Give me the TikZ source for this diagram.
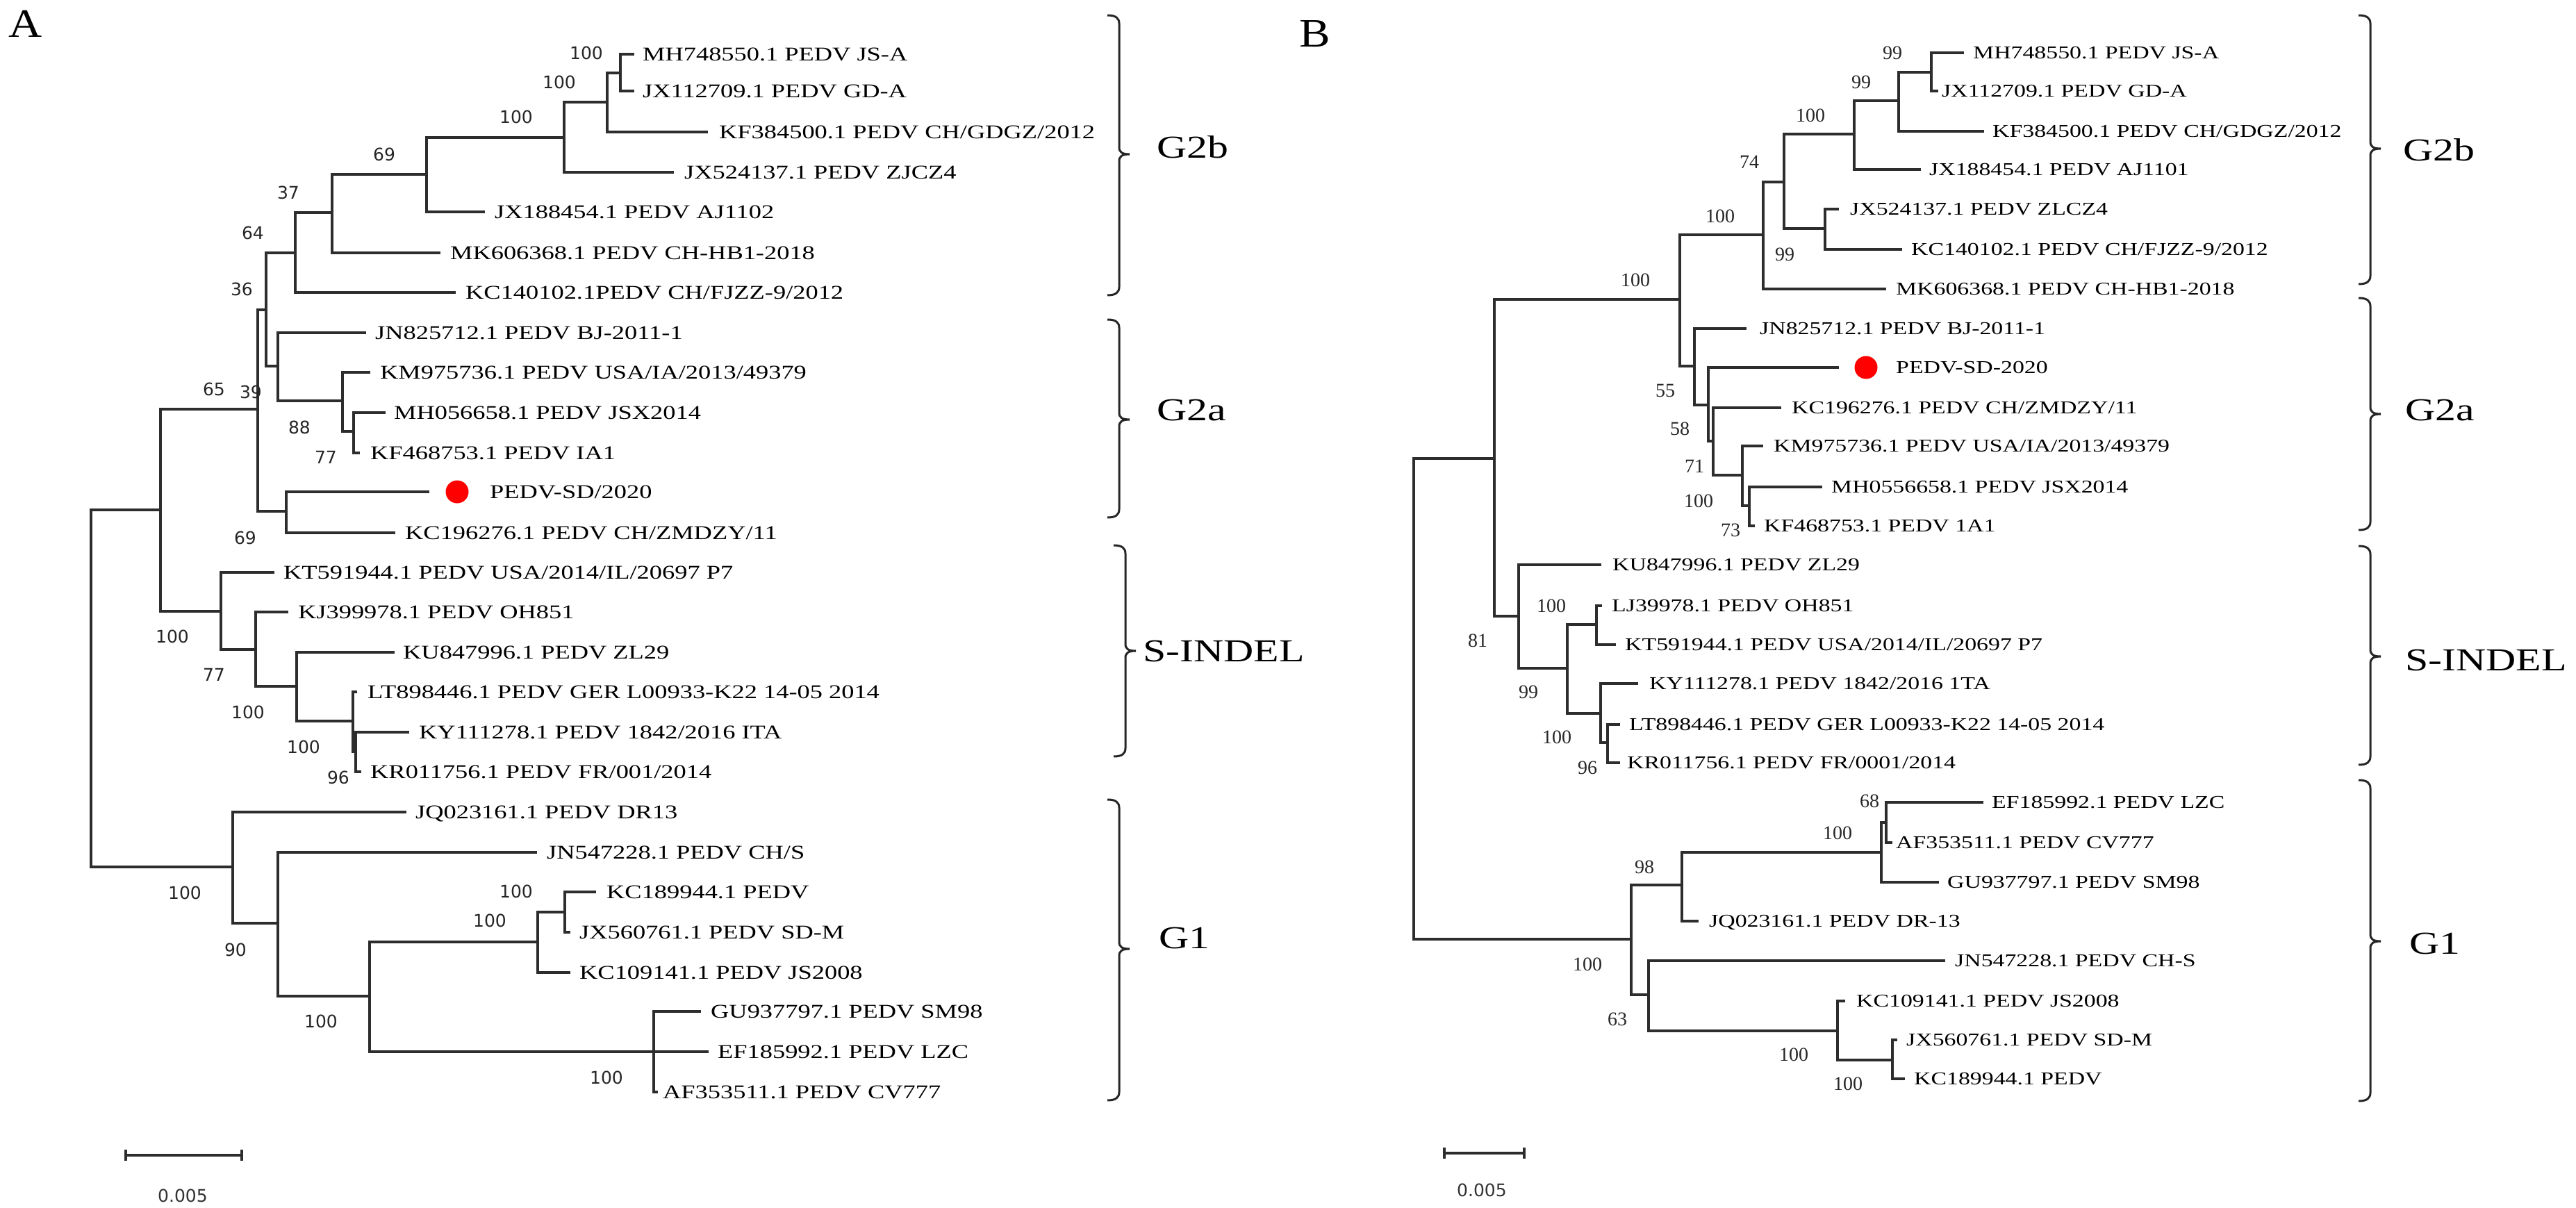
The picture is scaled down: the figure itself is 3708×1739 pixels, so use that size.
\documentclass[tikz,border=0pt]{standalone}
\usepackage{fontspec}
\newfontfamily\serifS[FakeStretch=1.3]{Liberation Serif}
\newfontfamily\serifL[FakeStretch=1.15]{Liberation Serif}
\newfontfamily\serifN{Liberation Serif}
\newfontfamily\sansN{DejaVu Sans}
\definecolor{ln}{RGB}{45,45,45}
\tikzset{
  br/.style={draw=ln, line width=3.3pt, line cap=rect},
  bkt/.style={draw=black!85, line width=3pt},
  leafa/.style={anchor=base west, inner sep=0pt, yshift=-9.3pt, font=\serifS\fontsize{28}{30}\selectfont},
  leafb/.style={anchor=base west, inner sep=0pt, yshift=-8.6pt, font=\serifS\fontsize{26}{28}\selectfont},
  bsa/.style={inner sep=0pt, font=\sansN\fontsize{25}{27}\selectfont, text=black!85},
  bsb/.style={inner sep=0pt, font=\serifN\fontsize{28}{30}\selectfont, text=black!85},
  grp/.style={anchor=west, inner sep=0pt, font=\serifS\fontsize{46}{48}\selectfont},
  pan/.style={inner sep=0pt, font=\serifL\fontsize{58}{60}\selectfont},
  scl/.style={inner sep=0pt, font=\sansN\fontsize{25}{27}\selectfont, text=black!80},
  dot/.style={circle, fill=red, draw=none, inner sep=0pt, minimum size=33pt}
}
\newcommand\kids[2]{\foreach \cc in {#2} {\draw[br] (#1 |- \cc) -- (\cc);}}
\newcommand\vspan[3]{\draw[br] (#1 |- #2) -- (#1 |- #3);}
\newcommand\brk[4]{\draw[bkt] (#1-17,#2) .. controls (#1-5,#2) and (#1,#2+4) .. (#1,#2+12) -- (#1,#3-10) .. controls (#1,#3-3) and (#1+4,#3) .. (#1+15,#3) .. controls (#1+4,#3) and (#1,#3+3) .. (#1,#3+10) -- (#1,#4-12) .. controls (#1,#4-4) and (#1-5,#4) .. (#1-17,#4);}
\begin{document}
\begin{tikzpicture}[x=1pt,y=-1pt]
\path[use as bounding box] (0,0) rectangle (3708,1739);
% ================= PANEL A =================
\node[pan] (panA) at (37,34) {A};
% tips
\coordinate (ta1) at (911,78);   \node[leafa] (la1) at (925,78) {MH748550.1 PEDV JS-A};
\coordinate (ta2) at (911,131);  \node[leafa] (la2) at (925,131) {JX112709.1 PEDV GD-A};
\coordinate (ta3) at (1017,190); \node[leafa] (la3) at (1035,190) {KF384500.1 PEDV CH/GDGZ/2012};
\coordinate (ta4) at (968,248);  \node[leafa] (la4) at (985,248) {JX524137.1 PEDV ZJCZ4};
\coordinate (ta5) at (696,305);  \node[leafa] (la5) at (712,305) {JX188454.1 PEDV AJ1102};
\coordinate (ta6) at (632,364);  \node[leafa] (la6) at (648,364) {MK606368.1 PEDV CH-HB1-2018};
\coordinate (ta7) at (654,421);  \node[leafa] (la7) at (670,421) {KC140102.1PEDV CH/FJZZ-9/2012};
\coordinate (ta8) at (525,479);  \node[leafa] (la8) at (540,479) {JN825712.1 PEDV BJ-2011-1};
\coordinate (ta9) at (531,536);  \node[leafa] (la9) at (547,536) {KM975736.1 PEDV USA/IA/2013/49379};
\coordinate (ta10) at (553,594); \node[leafa] (la10) at (567,594) {MH056658.1 PEDV JSX2014};
\coordinate (ta11) at (516,652); \node[leafa] (la11) at (533,652) {KF468753.1 PEDV IA1};
\coordinate (ta12) at (616,708); \node[dot] (da12) at (658,708) {}; \node[leafa] (la12) at (705,708) {PEDV-SD/2020};
\coordinate (ta13) at (567,767); \node[leafa] (la13) at (583,767) {KC196276.1 PEDV CH/ZMDZY/11};
\coordinate (ta14) at (393,824); \node[leafa] (la14) at (408,824) {KT591944.1 PEDV USA/2014/IL/20697 P7};
\coordinate (ta15) at (413,881); \node[leafa] (la15) at (429,881) {KJ399978.1 PEDV OH851};
\coordinate (ta16) at (566,939); \node[leafa] (la16) at (580,939) {KU847996.1 PEDV ZL29};
\coordinate (ta17) at (512,996); \node[leafa] (la17) at (529,996) {LT898446.1 PEDV GER L00933-K22 14-05 2014};
\coordinate (ta18) at (587,1054); \node[leafa] (la18) at (603,1054) {KY111278.1 PEDV 1842/2016 ITA};
\coordinate (ta19) at (518,1111); \node[leafa] (la19) at (533,1111) {KR011756.1 PEDV FR/001/2014};
\coordinate (ta20) at (583,1169); \node[leafa] (la20) at (598,1169) {JQ023161.1 PEDV DR13};
\coordinate (ta21) at (771,1227); \node[leafa] (la21) at (787,1227) {JN547228.1 PEDV CH/S};
\coordinate (ta22) at (856,1284); \node[leafa] (la22) at (873,1284) {KC189944.1 PEDV};
\coordinate (ta23) at (819,1342); \node[leafa] (la23) at (834,1342) {JX560761.1 PEDV SD-M};
\coordinate (ta24) at (819,1400); \node[leafa] (la24) at (834,1400) {KC109141.1 PEDV JS2008};
\coordinate (ta25) at (1007,1456); \node[leafa] (la25) at (1023,1456) {GU937797.1 PEDV SM98};
\coordinate (ta26) at (1018,1514); \node[leafa] (la26) at (1033,1514) {EF185992.1 PEDV LZC};
\coordinate (ta27) at (945,1572); \node[leafa] (la27) at (954,1572) {AF353511.1 PEDV CV777};
% internal nodes
\coordinate (nA1) at (893,105);  \coordinate (nA2) at (874,147);
\coordinate (nA3) at (812,198);  \coordinate (nA4) at (614,251);
\coordinate (nA5) at (478,306);  \coordinate (nA6) at (425,364);
\coordinate (nA7) at (383,446);  \coordinate (nA8) at (400,527);
\coordinate (nA9) at (493,577);  \coordinate (nA10) at (509,621);
\coordinate (nA11) at (371,589); \coordinate (nA12) at (412,736);
\coordinate (nA13) at (231,734); \coordinate (nA14) at (318,880);
\coordinate (nA15) at (368,935); \coordinate (nA16) at (427,988);
\coordinate (nA17) at (508,1038); \coordinate (nA18) at (512,1082);
\coordinate (rA) at (131,990);
\coordinate (nA20) at (335,1248); \coordinate (nA21) at (400,1329);
\coordinate (nA22) at (532,1434); \coordinate (nA23) at (774,1356);
\coordinate (nA25) at (813,1313); \coordinate (nA24) at (941,1514);
% verticals
\vspan{nA1}{ta1}{ta2} \vspan{nA2}{nA1}{ta3} \vspan{nA3}{nA2}{ta4}
\vspan{nA4}{nA3}{ta5} \vspan{nA5}{nA4}{ta6} \vspan{nA6}{nA5}{ta7}
\vspan{nA7}{nA6}{nA8} \vspan{nA8}{ta8}{nA9} \vspan{nA9}{ta9}{nA10}
\vspan{nA10}{ta10}{ta11} \vspan{nA11}{nA7}{nA12} \vspan{nA12}{ta12}{ta13}
\vspan{nA13}{nA11}{nA14} \vspan{nA14}{ta14}{nA15} \vspan{nA15}{ta15}{nA16}
\vspan{nA16}{ta16}{nA17} \vspan{nA17}{ta17}{nA18} \vspan{nA18}{ta18}{ta19}
\vspan{rA}{nA13}{nA20} \vspan{nA20}{ta20}{nA21} \vspan{nA21}{ta21}{nA22}
\vspan{nA22}{nA23}{nA24} \vspan{nA23}{nA25}{ta24} \vspan{nA25}{ta22}{ta23}
\vspan{nA24}{ta25}{ta27}
% horizontals
\kids{nA1}{ta1,ta2} \kids{nA2}{nA1,ta3} \kids{nA3}{nA2,ta4}
\kids{nA4}{nA3,ta5} \kids{nA5}{nA4,ta6} \kids{nA6}{nA5,ta7}
\kids{nA7}{nA6,nA8} \kids{nA8}{ta8,nA9} \kids{nA9}{ta9,nA10}
\kids{nA10}{ta10,ta11} \kids{nA11}{nA7,nA12} \kids{nA12}{ta12,ta13}
\kids{nA13}{nA11,nA14} \kids{nA14}{ta14,nA15} \kids{nA15}{ta15,nA16}
\kids{nA16}{ta16,nA17} \kids{nA17}{ta17,nA18} \kids{nA18}{ta18,ta19}
\kids{rA}{nA13,nA20} \kids{nA20}{ta20,nA21} \kids{nA21}{ta21,nA22}
\kids{nA22}{nA23,nA24} \kids{nA23}{nA25,ta24} \kids{nA25}{ta22,ta23}
\kids{nA24}{ta25,ta26,ta27}
% bootstrap A
\node[bsa] (bA1) at (844,76) {100};
\node[bsa] (bA2) at (805,118) {100};
\node[bsa] (bA3) at (743,168) {100};
\node[bsa] (bA4) at (553,222) {69};
\node[bsa] (bA5) at (415,277) {37};
\node[bsa] (bA6) at (364,335) {64};
\node[bsa] (bA7) at (348,416) {36};
\node[bsa] (bA8) at (308,560) {65};
\node[bsa] (bA9) at (361,564) {39};
\node[bsa] (bA10) at (431,615) {88};
\node[bsa] (bA11) at (469,658) {77};
\node[bsa] (bA12) at (353,774) {69};
\node[bsa] (bA13) at (248,916) {100};
\node[bsa] (bA14) at (308,971) {77};
\node[bsa] (bA15) at (357,1025) {100};
\node[bsa] (bA16) at (437,1075) {100};
\node[bsa] (bA17) at (487,1119) {96};
\node[bsa] (bA18) at (266,1285) {100};
\node[bsa] (bA19) at (339,1367) {90};
\node[bsa] (bA20) at (462,1470) {100};
\node[bsa] (bA21) at (705,1325) {100};
\node[bsa] (bA22) at (743,1283) {100};
\node[bsa] (bA23) at (873,1551) {100};
% scale bar A
\coordinate (sA1) at (181,1663); \coordinate (sA2) at (348,1663);
\draw[br, line cap=butt] (sA1) -- (sA2);
\draw[br, line cap=butt] ([yshift=8pt]sA1) -- ([yshift=-8pt]sA1);
\draw[br, line cap=butt] ([yshift=8pt]sA2) -- ([yshift=-8pt]sA2);
\node[scl] (sAl) at (263,1721) {0.005};
% brackets A
\brk{1611}{22}{222}{425}
\brk{1611}{460}{604}{745}
\brk{1620}{785}{937}{1089}
\brk{1611}{1151}{1366}{1584}
\node[grp] (gA1) at (1665,212) {G2b};
\node[grp] (gA2) at (1665,590) {G2a};
\node[grp] (gA3) at (1645,937) {S-INDEL};
\node[grp] (gA4) at (1668,1350) {G1};
% ================= PANEL B =================
\node[pan] (panB) at (1893,49) {B};
\coordinate (tb1) at (2825,76);   \node[leafb] (lb1) at (2840,76) {MH748550.1 PEDV JS-A};
\coordinate (tb2) at (2788,131);  \node[leafb] (lb2) at (2795,131) {JX112709.1 PEDV GD-A};
\coordinate (tb3) at (2854,189);  \node[leafb] (lb3) at (2868,189) {KF384500.1 PEDV CH/GDGZ/2012};
\coordinate (tb4) at (2763,244);  \node[leafb] (lb4) at (2777,244) {JX188454.1 PEDV AJ1101};
\coordinate (tb5) at (2645,301);  \node[leafb] (lb5) at (2663,301) {JX524137.1 PEDV ZLCZ4};
\coordinate (tb6) at (2736,359);  \node[leafb] (lb6) at (2751,359) {KC140102.1 PEDV CH/FJZZ-9/2012};
\coordinate (tb7) at (2713,416);  \node[leafb] (lb7) at (2729,416) {MK606368.1 PEDV CH-HB1-2018};
\coordinate (tb8) at (2512,473);  \node[leafb] (lb8) at (2533,473) {JN825712.1 PEDV BJ-2011-1};
\coordinate (tb9) at (2645,529);  \node[dot] (db9) at (2686,529) {}; \node[leafb] (lb9) at (2729,529) {PEDV-SD-2020};
\coordinate (tb10) at (2562,587); \node[leafb] (lb10) at (2579,587) {KC196276.1 PEDV CH/ZMDZY/11};
\coordinate (tb11) at (2536,642); \node[leafb] (lb11) at (2553,642) {KM975736.1 PEDV USA/IA/2013/49379};
\coordinate (tb12) at (2621,701); \node[leafb] (lb12) at (2636,701) {MH0556658.1 PEDV JSX2014};
\coordinate (tb13) at (2524,757); \node[leafb] (lb13) at (2539,757) {KF468753.1 PEDV 1A1};
\coordinate (tb14) at (2303,813); \node[leafb] (lb14) at (2321,813) {KU847996.1 PEDV ZL29};
\coordinate (tb15) at (2304,872); \node[leafb] (lb15) at (2320,872) {LJ39978.1 PEDV OH851};
\coordinate (tb16) at (2324,928); \node[leafb] (lb16) at (2339,928) {KT591944.1 PEDV USA/2014/IL/20697 P7};
\coordinate (tb17) at (2356,984); \node[leafb] (lb17) at (2374,984) {KY111278.1 PEDV 1842/2016 1TA};
\coordinate (tb18) at (2330,1043); \node[leafb] (lb18) at (2345,1043) {LT898446.1 PEDV GER L00933-K22 14-05 2014};
\coordinate (tb19) at (2330,1098); \node[leafb] (lb19) at (2342,1098) {KR011756.1 PEDV FR/0001/2014};
\coordinate (tb20) at (2853,1155); \node[leafb] (lb20) at (2867,1155) {EF185992.1 PEDV LZC};
\coordinate (tb21) at (2722,1213); \node[leafb] (lb21) at (2729,1213) {AF353511.1 PEDV CV777};
\coordinate (tb22) at (2789,1270); \node[leafb] (lb22) at (2803,1270) {GU937797.1 PEDV SM98};
\coordinate (tb23) at (2443,1326); \node[leafb] (lb23) at (2460,1326) {JQ023161.1 PEDV DR-13};
\coordinate (tb24) at (2798,1383); \node[leafb] (lb24) at (2814,1383) {JN547228.1 PEDV CH-S};
\coordinate (tb25) at (2654,1441); \node[leafb] (lb25) at (2672,1441) {KC109141.1 PEDV JS2008};
\coordinate (tb26) at (2729,1497); \node[leafb] (lb26) at (2744,1497) {JX560761.1 PEDV SD-M};
\coordinate (tb27) at (2740,1553); \node[leafb] (lb27) at (2755,1553) {KC189944.1 PEDV};
% internal nodes B
\coordinate (nB1) at (2780,104);  \coordinate (nB2) at (2733,145);
\coordinate (nB3) at (2669,193);  \coordinate (nB4) at (2627,329);
\coordinate (nB5) at (2568,262);  \coordinate (nB6) at (2538,338);
\coordinate (nB7) at (2418,431);  \coordinate (nB8) at (2439,527);
\coordinate (nB9) at (2459,583);  \coordinate (nB10) at (2466,635);
\coordinate (nB11) at (2508,684); \coordinate (nB12) at (2518,728);
\coordinate (nB13) at (2151,660); \coordinate (nB14) at (2186,887);
\coordinate (nB15) at (2256,962); \coordinate (nB16) at (2298,899);
\coordinate (nB17) at (2304,1027); \coordinate (nB18) at (2314,1069);
\coordinate (rB) at (2035,1000);
\coordinate (nB19) at (2348,1352); \coordinate (nB20) at (2421,1274);
\coordinate (nB22) at (2708,1227); \coordinate (nB23) at (2715,1184);
\coordinate (nB21) at (2373,1432); \coordinate (nB24) at (2645,1484);
\coordinate (nB25) at (2724,1526);
% verticals B
\vspan{nB1}{tb1}{tb2} \vspan{nB2}{nB1}{tb3} \vspan{nB3}{nB2}{tb4}
\vspan{nB4}{tb5}{tb6} \vspan{nB5}{nB3}{nB4} \vspan{nB6}{nB5}{tb7}
\vspan{nB7}{nB6}{nB8} \vspan{nB8}{tb8}{nB9} \vspan{nB9}{tb9}{nB10}
\vspan{nB10}{tb10}{nB11} \vspan{nB11}{tb11}{nB12} \vspan{nB12}{tb12}{tb13}
\vspan{nB13}{nB7}{nB14} \vspan{nB14}{tb14}{nB15} \vspan{nB15}{nB16}{nB17}
\vspan{nB16}{tb15}{tb16} \vspan{nB17}{tb17}{nB18} \vspan{nB18}{tb18}{tb19}
\vspan{rB}{nB13}{nB19} \vspan{nB19}{nB20}{nB21} \vspan{nB20}{nB22}{tb23}
\vspan{nB22}{nB23}{tb22} \vspan{nB23}{tb20}{tb21} \vspan{nB21}{tb24}{nB24}
\vspan{nB24}{tb25}{nB25} \vspan{nB25}{tb26}{tb27}
% horizontals B
\kids{nB1}{tb1,tb2} \kids{nB2}{nB1,tb3} \kids{nB3}{nB2,tb4}
\kids{nB4}{tb5,tb6} \kids{nB5}{nB3,nB4} \kids{nB6}{nB5,tb7}
\kids{nB7}{nB6,nB8} \kids{nB8}{tb8,nB9} \kids{nB9}{tb9,nB10}
\kids{nB10}{tb10,nB11} \kids{nB11}{tb11,nB12} \kids{nB12}{tb12,tb13}
\kids{nB13}{nB7,nB14} \kids{nB14}{tb14,nB15} \kids{nB15}{nB16,nB17}
\kids{nB16}{tb15,tb16} \kids{nB17}{tb17,nB18} \kids{nB18}{tb18,tb19}
\kids{rB}{nB13,nB19} \kids{nB19}{nB20,nB21} \kids{nB20}{nB22,tb23}
\kids{nB22}{nB23,tb22} \kids{nB23}{tb20,tb21} \kids{nB21}{tb24,nB24}
\kids{nB24}{tb25,nB25} \kids{nB25}{tb26,tb27}
% bootstrap B
\node[bsb] (bB1) at (2724,76) {99};
\node[bsb] (bB2) at (2679,118) {99};
\node[bsb] (bB3) at (2606,166) {100};
\node[bsb] (bB4) at (2518,233) {74};
\node[bsb] (bB5) at (2569,366) {99};
\node[bsb] (bB6) at (2476,311) {100};
\node[bsb] (bB7) at (2354,403) {100};
\node[bsb] (bB8) at (2397,562) {55};
\node[bsb] (bB9) at (2418,617) {58};
\node[bsb] (bB10) at (2439,671) {71};
\node[bsb] (bB11) at (2445,721) {100};
\node[bsb] (bB12) at (2491,763) {73};
\node[bsb] (bB13) at (2127,922) {81};
\node[bsb] (bB14) at (2233,872) {100};
\node[bsb] (bB15) at (2200,996) {99};
\node[bsb] (bB16) at (2241,1061) {100};
\node[bsb] (bB17) at (2285,1105) {96};
\node[bsb] (bB18) at (2691,1153) {68};
\node[bsb] (bB19) at (2645,1199) {100};
\node[bsb] (bB20) at (2367,1248) {98};
\node[bsb] (bB21) at (2285,1388) {100};
\node[bsb] (bB22) at (2328,1467) {63};
\node[bsb] (bB23) at (2582,1518) {100};
\node[bsb] (bB24) at (2660,1560) {100};
% scale bar B
\coordinate (sB1) at (2079,1660); \coordinate (sB2) at (2194,1660);
\draw[br, line cap=butt] (sB1) -- (sB2);
\draw[br, line cap=butt] ([yshift=8pt]sB1) -- ([yshift=-8pt]sB1);
\draw[br, line cap=butt] ([yshift=8pt]sB2) -- ([yshift=-8pt]sB2);
\node[scl] (sBl) at (2133,1713) {0.005};
% brackets B
\brk{3412}{22}{214}{409}
\brk{3412}{429}{596}{763}
\brk{3412}{786}{945}{1101}
\brk{3412}{1123}{1355}{1585}
\node[grp] (gB1) at (3459,216) {G2b};
\node[grp] (gB2) at (3462,590) {G2a};
\node[grp] (gB3) at (3462,950) {S-INDEL};
\node[grp] (gB4) at (3468,1358) {G1};
\end{tikzpicture}
\end{document}
